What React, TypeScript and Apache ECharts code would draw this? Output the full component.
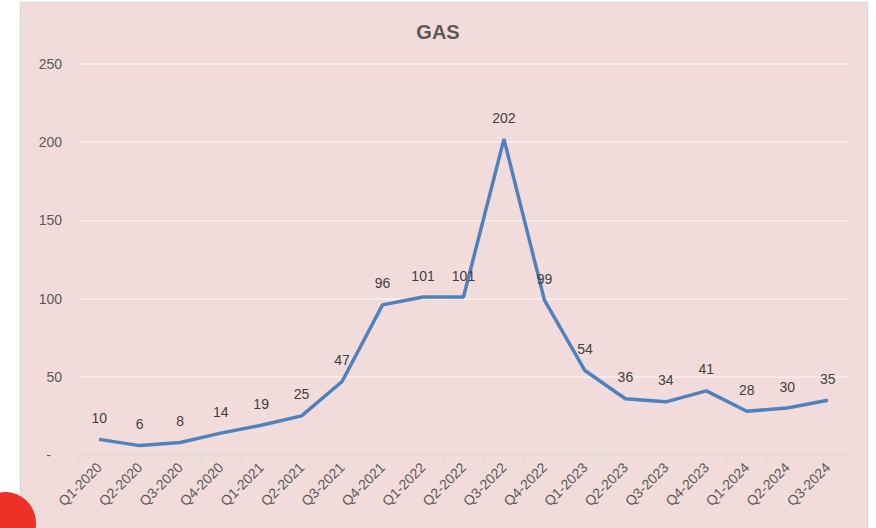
import React, { useEffect, useRef } from "react";
import * as echarts from "echarts";

const categories = [
  "Q1-2020", "Q2-2020", "Q3-2020", "Q4-2020",
  "Q1-2021", "Q2-2021", "Q3-2021", "Q4-2021",
  "Q1-2022", "Q2-2022", "Q3-2022", "Q4-2022",
  "Q1-2023", "Q2-2023", "Q3-2023", "Q4-2023",
  "Q1-2024", "Q2-2024", "Q3-2024",
];
const gasValues = [10, 6, 8, 14, 19, 25, 47, 96, 101, 101, 202, 99, 54, 36, 34, 41, 28, 30, 35];
const yTicks = { min: 0, max: 250, interval: 50 };
const title = "GAS";

export default function App() {
  const ref = useRef<HTMLDivElement>(null);
  useEffect(() => {
    if (!ref.current) return;
    const chart = echarts.init(ref.current, undefined, { renderer: "svg" });
    const font = "'Liberation Sans', Arial, sans-serif";
    chart.setOption({
      animation: false,
      backgroundColor: "#ffffff",
      textStyle: { fontFamily: font },
      graphic: [
        {
          type: "rect",
          z: -10,
          silent: true,
          shape: { x: 20.5, y: 2.5, width: 847, height: 540 },
          style: { fill: "#F2DCDB", stroke: "#D9D9D9", lineWidth: 1.5 },
        },
        {
          type: "circle",
          z: 100,
          silent: true,
          shape: { cx: 5, cy: 523, r: 31 },
          style: { fill: "#EE3127" },
        },
      ],
      title: {
        text: title,
        left: "center",
        top: 17,
        textStyle: { fontFamily: font, fontSize: 20, fontWeight: "bold", color: "#595959" },
      },
      grid: { left: 79, right: 28, top: 64, bottom: 73 },
      xAxis: {
        type: "category",
        data: categories,
        boundaryGap: true,
        axisLine: { show: true, lineStyle: { color: "#D9D9D9", width: 1.5 } },
        axisTick: { show: true, length: 5, lineStyle: { color: "#D9D9D9", width: 1.5 } },
        axisLabel: {
          rotate: 45,
          interval: 0,
          margin: 10,
          fontSize: 14,
          color: "#595959",
          fontFamily: font,
        },
      },
      yAxis: {
        type: "value",
        min: yTicks.min,
        max: yTicks.max,
        interval: yTicks.interval,
        axisLine: { show: false },
        axisTick: { show: false },
        splitLine: { lineStyle: { color: "#F7F0F0", width: 1.5 } },
        axisLabel: {
          margin: 17,
          fontSize: 14,
          color: "#595959",
          fontFamily: font,
          formatter: (v: number) => (v === 0 ? "{z|-}" : String(v)),
          rich: { z: { padding: [0, 11, 0, 0], fontSize: 14, color: "#595959" } },
        },
      },
      series: [
        {
          type: "line",
          data: gasValues,
          symbol: "circle",
          symbolSize: 1,
          lineStyle: { color: "#4F81BD", width: 3.5 },
          itemStyle: { color: "#4F81BD" },
          label: {
            show: true,
            position: "top",
            distance: 14,
            fontSize: 14,
            color: "#404040",
            fontFamily: font,
          },
        },
      ],
    });
    return () => chart.dispose();
  }, []);
  return (
    <div
      ref={ref}
      style={{ position: "fixed", left: 0, top: 0, width: 876, height: 528 }}
    />
  );
}
